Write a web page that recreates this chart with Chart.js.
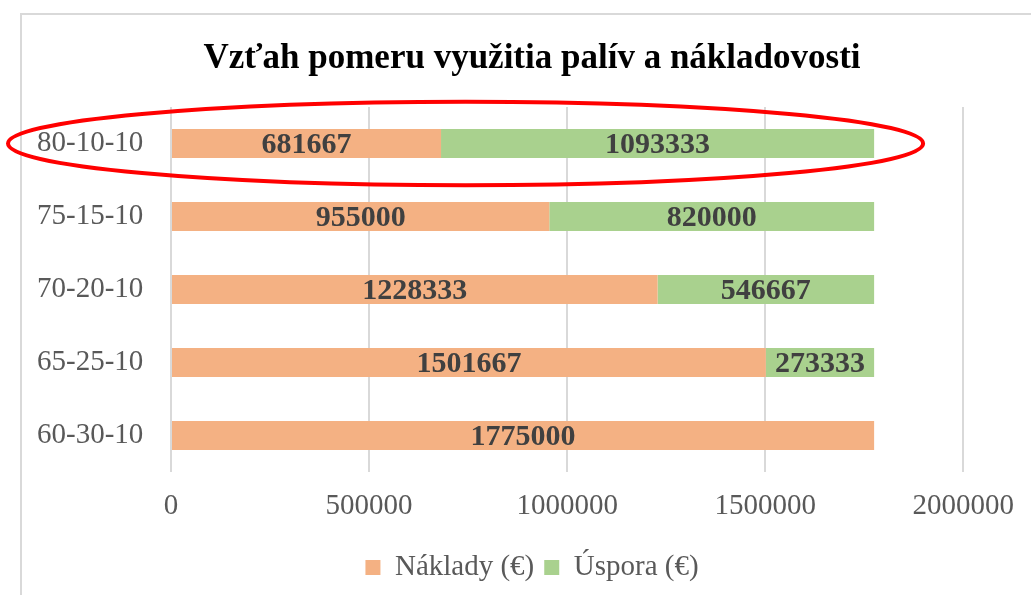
<!DOCTYPE html>
<html>
<head>
<meta charset="utf-8">
<script src="https://cdn.jsdelivr.net/npm/chart.js@4"></script>
<style>
html, body { margin: 0; padding: 0; width: 1031px; height: 595px; overflow: hidden; background: #fff; }
#frame { position: absolute; left: 20px; top: 13px; width: 1100px; height: 700px; border: 2px solid #d9d9d9; box-sizing: border-box; }
#wrap { position: absolute; left: 0; top: 0; width: 1031px; height: 595px; }
</style>
</head>
<body>
<div id="frame"></div>
<div id="wrap"><canvas id="chart" width="1031" height="595"></canvas></div>
<script>
const categories = ['80-10-10', '75-15-10', '70-20-10', '65-25-10', '60-30-10'];
const nakladyValues = [681667, 955000, 1228333, 1501667, 1775000];
const usporaValues = [1093333, 820000, 546667, 273333, 0];
const xTicks = [0, 500000, 1000000, 1500000, 2000000];

const seriesLabels = ['Náklady (€)', 'Úspora (€)'];
const seriesColors = ['#F4B183', '#A9D18E'];

const serif = '"Liberation Serif", "Times New Roman", serif';
const textGray = '#595959';

// value labels in the middle of each segment
const barLabels = {
    id: 'barLabels',
    afterDatasetsDraw(chart) {
        const ctx = chart.ctx;
        ctx.save();
        ctx.font = 'bold 30px ' + serif;
        ctx.fillStyle = '#404040';
        ctx.textAlign = 'center';
        ctx.textBaseline = 'middle';
        chart.data.datasets.forEach((ds, i) => {
            chart.getDatasetMeta(i).data.forEach((bar, j) => {
                const v = ds.data[j];
                if (!v) return;
                ctx.fillText(String(v), (bar.x + bar.base) / 2, bar.y + 2);
            });
        });
        ctx.restore();
    }
};

// red ellipse round the first row
const highlight = {
    id: 'highlight',
    afterDraw(chart) {
        const bar = chart.getDatasetMeta(1).data[0];
        const ctx = chart.ctx;
        const left = chart.chartArea.left - 163;
        const right = bar.x + 49;
        ctx.save();
        ctx.strokeStyle = '#ff0000';
        ctx.lineWidth = 4;
        ctx.beginPath();
        ctx.ellipse((left + right) / 2, bar.y, (right - left) / 2, bar.height * 1.43, 0, 0, Math.PI * 2);
        ctx.stroke();
        ctx.restore();
    }
};

Chart.defaults.font.family = serif;
Chart.defaults.color = textGray;

new Chart(document.getElementById('chart'), {
    type: 'bar',
    data: {
        labels: categories,
        datasets: [
            { label: seriesLabels[0], data: nakladyValues, backgroundColor: seriesColors[0] },
            { label: seriesLabels[1], data: usporaValues, backgroundColor: seriesColors[1] }
        ]
    },
    options: {
        indexAxis: 'y',
        responsive: false,
        animation: false,
        barPercentage: 0.4,
        categoryPercentage: 1,
        layout: { padding: { left: 51, right: 18, top: 0, bottom: 3 } },
        scales: {
            x: {
                stacked: true,
                min: xTicks[0],
                max: xTicks[xTicks.length - 1],
                afterFit: (scale) => { scale.height = 71; },
                border: { display: false },
                grid: { color: '#d9d9d9', lineWidth: 2, drawTicks: false },
                ticks: {
                    stepSize: xTicks[1] - xTicks[0],
                    padding: 17,
                    color: textGray,
                    font: { size: 29 },
                    callback: (v) => String(v)
                }
            },
            y: {
                stacked: true,
                afterFit: (scale) => { scale.width = 120; },
                border: { display: false },
                grid: { display: false },
                // mirrored so the labels are not clipped to the narrow axis box
                ticks: { mirror: true, padding: -134, color: textGray, font: { size: 29 } }
            }
        },
        plugins: {
            title: {
                display: true,
                text: 'Vzťah pomeru využitia palív a nákladovosti',
                color: '#000',
                font: { size: 35, weight: 'bold' },
                padding: { top: 38, bottom: 27 }
            },
            legend: {
                position: 'bottom',
                labels: { boxWidth: 15, boxHeight: 15, padding: 10, color: textGray, font: { size: 29 } }
            },
            tooltip: { enabled: false }
        }
    },
    plugins: [barLabels, highlight]
});
</script>
</body>
</html>
